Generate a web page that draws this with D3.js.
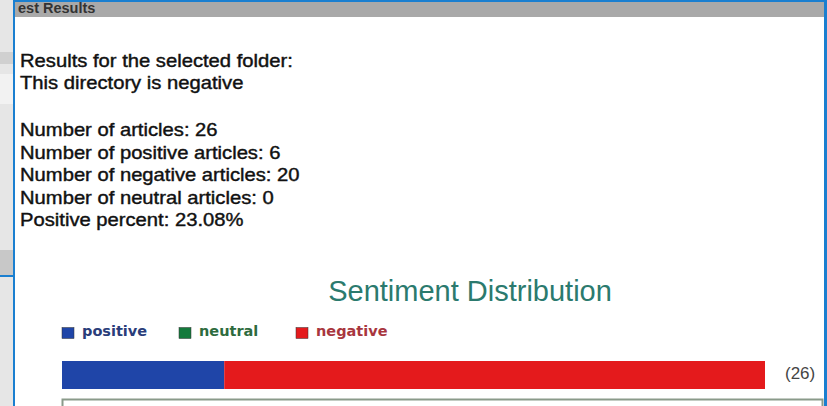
<!DOCTYPE html>
<html>
<head>
<meta charset="utf-8">
<script src="https://cdn.jsdelivr.net/npm/d3@7"></script>
<style>
  body { margin: 0; background: #fff; overflow: hidden; }
  svg { display: block; }
</style>
</head>
<body>
<script>
// sentiment counts
var categories = ["positive", "neutral", "negative"];
var counts = [6, 0, 20];
var colors = ["#1f45a8", "#147a3c", "#e41a1c"];
var labelColors = ["#2a3d7a", "#2e6b3e", "#a8363e"];

var total = d3.sum(counts);
var infoLines = [
  "Number of articles: " + total,
  "Number of positive articles: " + counts[0],
  "Number of negative articles: " + counts[2],
  "Number of neutral articles: " + counts[1],
  "Positive percent: " + d3.format(".2f")(counts[0] / total * 100) + "%"
];

var W = 827, H = 406;
var svg = d3.select("body").append("svg")
  .attr("width", W)
  .attr("height", H);

// background app strip on the left
svg.append("rect").attr("x", 0).attr("y", 0).attr("width", 14).attr("height", H).attr("fill", "#e6e6e6");
svg.append("rect").attr("x", 0).attr("y", 52).attr("width", 13).attr("height", 12).attr("fill", "#d0d0d0");
svg.append("rect").attr("x", 0).attr("y", 74).attr("width", 13).attr("height", 30).attr("fill", "#f2f2f2");
svg.append("rect").attr("x", 0).attr("y", 250).attr("width", 13).attr("height", 26).attr("fill", "#c8c8c8");

// window frame
svg.append("rect").attr("x", 14).attr("y", 0).attr("width", W - 14).attr("height", H).attr("fill", "#fff");
svg.append("rect").attr("x", 14).attr("y", 2).attr("width", W - 16).attr("height", 15).attr("fill", "#a9a9a9");
svg.append("rect").attr("x", 14).attr("y", 0).attr("width", W - 14).attr("height", 2).attr("fill", "#1a7fd0");
svg.append("rect").attr("x", 13).attr("y", 0).attr("width", 2).attr("height", H).attr("fill", "#1a7fd0");
svg.append("rect").attr("x", 824).attr("y", 0).attr("width", 3).attr("height", H).attr("fill", "#1a7fd0");
svg.append("rect").attr("x", 0).attr("y", 275).attr("width", 14).attr("height", 2).attr("fill", "#1a7fd0");

svg.append("text")
  .attr("x", 18).attr("y", 13)
  .attr("font-family", "Liberation Sans, Arial, sans-serif")
  .attr("font-size", 14.5).attr("font-weight", "bold")
  .attr("fill", "#333")
  .text("est Results");

// summary text (the screenshot is a bit wider than the font)
var textFont = "Liberation Sans, Arial, sans-serif";
var info = svg.append("g")
  .attr("transform", "translate(20,0) scale(1.155,1)")
  .attr("font-family", textFont).attr("font-size", 17.5)
  .attr("fill", "#111").attr("stroke", "#111").attr("stroke-width", 0.4);

info.append("text").attr("x", 0).attr("y", 67.5).text("Results for the selected folder:");
info.append("text").attr("x", 0).attr("y", 89.5).text("This directory is negative");

info.selectAll("text.info").data(infoLines).enter().append("text")
  .attr("class", "info")
  .attr("x", 0)
  .attr("y", function(d, i) { return 136.5 + i * 22.5; })
  .text(function(d) { return d; });

// chart title
svg.append("text")
  .attr("x", 470).attr("y", 301)
  .attr("text-anchor", "middle")
  .attr("font-family", textFont).attr("font-size", 29)
  .attr("fill", "#2b7a6e")
  .text("Sentiment Distribution");

// legend
var legendX = d3.scalePoint().domain(categories).range([62, 296]);
var leg = svg.selectAll("g.leg").data(categories).enter().append("g")
  .attr("class", "leg")
  .attr("transform", function(d) { return "translate(" + legendX(d) + ",326)"; });
leg.append("rect")
  .attr("width", 12).attr("height", 11).attr("y", 1.5)
  .attr("fill", function(d, i) { return colors[i]; })
  .attr("stroke", "#333").attr("stroke-width", 0.5);
leg.append("text")
  .attr("x", 20).attr("y", 9.5)
  .attr("font-family", "DejaVu Sans, Verdana, sans-serif")
  .attr("font-size", 14.5).attr("font-weight", "bold")
  .attr("fill", function(d, i) { return labelColors[i]; })
  .text(function(d) { return d; });

// stacked bar
var x = d3.scaleLinear().domain([0, total]).range([62, 765]);
var starts = d3.cumsum([0].concat(counts));
svg.selectAll("rect.seg").data(categories).enter().append("rect")
  .attr("class", "seg")
  .attr("x", function(d, i) { return x(starts[i]); })
  .attr("width", function(d, i) { return x(starts[i] + counts[i]) - x(starts[i]); })
  .attr("y", 361).attr("height", 28)
  .attr("fill", function(d, i) { return colors[i]; });

svg.append("text")
  .attr("x", 785).attr("y", 379)
  .attr("font-family", textFont).attr("font-size", 17)
  .attr("fill", "#444")
  .text("(" + total + ")");

// box below the bar
svg.append("rect")
  .attr("x", 62.5).attr("y", 399.5)
  .attr("width", 760).attr("height", 20)
  .attr("fill", "none").attr("stroke", "#8a9a8a").attr("stroke-width", 2);
</script>
</body>
</html>
